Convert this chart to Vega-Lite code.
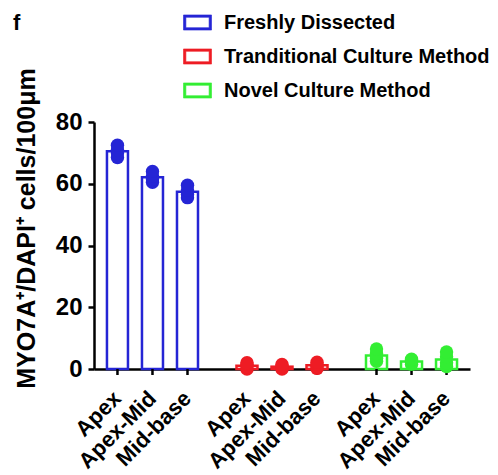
{
  "$schema": "https://vega.github.io/schema/vega-lite/v6.json",
  "width": 376,
  "height": 247,
  "autosize": {"type": "none"},
  "padding": {"left": 94, "top": 122, "right": 28, "bottom": 106},
  "background": "white",
  "title": {"text": "f", "anchor": "start", "frame": "group", "dx": -81, "offset": -44, "fontSize": 22, "font": "Liberation Sans", "fontWeight": "bold", "baseline": "alphabetic", "color": "black"},
  "config": {"view": {"stroke": null}, "font": "Liberation Sans", "axis": {"zindex": 0}},
  "data": {"values": [
    {"group": "Freshly Dissected", "region": "Apex", "value": 68.5},
    {"group": "Freshly Dissected", "region": "Apex", "value": 70},
    {"group": "Freshly Dissected", "region": "Apex", "value": 71},
    {"group": "Freshly Dissected", "region": "Apex", "value": 72.5},
    {"group": "Freshly Dissected", "region": "Apex-Mid", "value": 60.5},
    {"group": "Freshly Dissected", "region": "Apex-Mid", "value": 61.5},
    {"group": "Freshly Dissected", "region": "Apex-Mid", "value": 62.5},
    {"group": "Freshly Dissected", "region": "Apex-Mid", "value": 64},
    {"group": "Freshly Dissected", "region": "Mid-base", "value": 55.5},
    {"group": "Freshly Dissected", "region": "Mid-base", "value": 56.5},
    {"group": "Freshly Dissected", "region": "Mid-base", "value": 58},
    {"group": "Freshly Dissected", "region": "Mid-base", "value": 59.5},
    {"group": "Tranditional Culture Method", "region": "Apex", "value": 0},
    {"group": "Tranditional Culture Method", "region": "Apex", "value": 0.8},
    {"group": "Tranditional Culture Method", "region": "Apex", "value": 1.5},
    {"group": "Tranditional Culture Method", "region": "Apex", "value": 2},
    {"group": "Tranditional Culture Method", "region": "Apex-Mid", "value": 0},
    {"group": "Tranditional Culture Method", "region": "Apex-Mid", "value": 0.5},
    {"group": "Tranditional Culture Method", "region": "Apex-Mid", "value": 1},
    {"group": "Tranditional Culture Method", "region": "Apex-Mid", "value": 1.5},
    {"group": "Tranditional Culture Method", "region": "Mid-base", "value": 0.2},
    {"group": "Tranditional Culture Method", "region": "Mid-base", "value": 0.8},
    {"group": "Tranditional Culture Method", "region": "Mid-base", "value": 1.5},
    {"group": "Tranditional Culture Method", "region": "Mid-base", "value": 2.2},
    {"group": "Novel Culture Method", "region": "Apex", "value": 2.5},
    {"group": "Novel Culture Method", "region": "Apex", "value": 3.5},
    {"group": "Novel Culture Method", "region": "Apex", "value": 5},
    {"group": "Novel Culture Method", "region": "Apex", "value": 6.5},
    {"group": "Novel Culture Method", "region": "Apex-Mid", "value": 1.5},
    {"group": "Novel Culture Method", "region": "Apex-Mid", "value": 2.2},
    {"group": "Novel Culture Method", "region": "Apex-Mid", "value": 2.8},
    {"group": "Novel Culture Method", "region": "Apex-Mid", "value": 3.2},
    {"group": "Novel Culture Method", "region": "Mid-base", "value": 0.8},
    {"group": "Novel Culture Method", "region": "Mid-base", "value": 2},
    {"group": "Novel Culture Method", "region": "Mid-base", "value": 4},
    {"group": "Novel Culture Method", "region": "Mid-base", "value": 5.5}
  ]},
  "encoding": {
    "x": {"field": "group", "type": "nominal",
      "scale": {"domain": ["Freshly Dissected", "Tranditional Culture Method", "Novel Culture Method"], "paddingInner": 0.189, "paddingOuter": 0.046},
      "axis": {"title": null, "labels": false, "ticks": false, "domainColor": "black", "domainWidth": 2.5}},
    "xOffset": {"field": "region", "type": "nominal",
      "scale": {"domain": ["Apex", "Apex-Mid", "Mid-base"], "paddingInner": 0.4, "paddingOuter": 0.2}}
  },
  "layer": [
    {
      "transform": [{"aggregate": [{"op": "mean", "field": "value", "as": "mean"}], "groupby": ["group", "region"]}],
      "layer": [
        {"mark": {"type": "bar", "filled": false, "strokeWidth": 2.5},
         "encoding": {
           "y": {"field": "mean", "type": "quantitative",
             "scale": {"domain": [0, 80], "nice": false},
             "axis": {"title": "MYO7A⁺/DAPI⁺ cells/100μm", "titleFontSize": 25, "titleFont": "Liberation Sans", "titleFontWeight": "bold", "titleColor": "black", "titleY": 106,
               "values": [0, 20, 40, 60, 80], "grid": false, "labelFontSize": 24, "labelFontWeight": "bold", "labelColor": "black", "labelPadding": 6,
               "tickSize": 6, "tickWidth": 2.5, "tickColor": "black", "domainWidth": 2.5, "domainColor": "black", "titlePadding": 16}},
           "stroke": {"field": "group", "type": "nominal",
             "scale": {"domain": ["Freshly Dissected", "Tranditional Culture Method", "Novel Culture Method"], "range": ["#2525d5", "#ee1c24", "#33ee33"]},
             "legend": {"title": null, "orient": "none", "legendX": 89, "legendY": -114,
               "symbolType": "M-1,-0.54H1V0.54H-1ZM-0.83,-0.37V0.37H0.83V-0.37Z", "symbolSize": 784, "symbolStrokeWidth": 0.6, "symbolOpacity": 1,
               "labelFontSize": 20, "labelFont": "Liberation Sans", "labelFontWeight": "bold", "labelColor": "black", "labelLimit": 0,
               "labelOffset": 12, "rowPadding": 9}}
         }},
        {"mark": {"type": "rule", "strokeWidth": 2.5, "y2Offset": 6, "color": "black"},
         "encoding": {"y": {"datum": 0}, "y2": {"datum": 0}}},
        {"mark": {"type": "text", "angle": 315, "align": "right", "baseline": "middle", "fontSize": 22, "fontWeight": "bold", "font": "Liberation Sans", "yOffset": 26, "xOffset": 0, "color": "black"},
         "encoding": {"y": {"datum": 0}, "text": {"field": "region"}}}
      ]
    },
    {"mark": {"type": "point", "filled": true, "size": 180, "opacity": 1},
     "encoding": {
       "y": {"field": "value", "type": "quantitative"},
       "fill": {"field": "group", "type": "nominal",
         "scale": {"domain": ["Freshly Dissected", "Tranditional Culture Method", "Novel Culture Method"], "range": ["#2525d5", "#ee1c24", "#33ee33"]},
         "legend": null}}}
  ]
}
